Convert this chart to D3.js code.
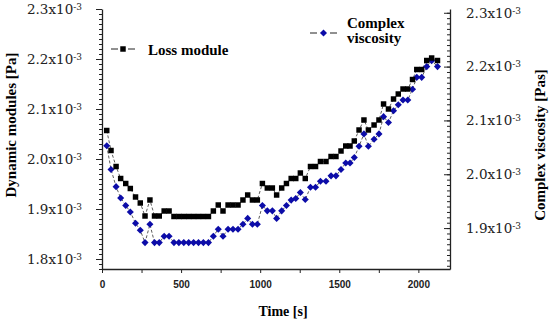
<!DOCTYPE html>
<meta charset="utf-8">
<script src="https://d3js.org/d3.v7.min.js"></script>
<style>
  body { margin: 0; background: #fff; }
  .tick line { stroke: #222; }
  .domain { stroke: #222; stroke-width: 1.3px; }
</style>
<div id="chart"></div>
<script>
// time in seconds
var times = [30, 57, 89, 118, 150, 179, 212, 242, 272, 303, 332, 362, 393, 424, 455,
  486, 517, 548, 579, 610, 641, 673, 704, 735, 765, 797, 828, 860, 891, 921, 951,
  982, 1014, 1045, 1077, 1104, 1136, 1166, 1196, 1225, 1254, 1285, 1318, 1350, 1381,
  1416, 1448, 1479, 1511, 1541, 1568, 1595, 1625, 1656, 1684, 1720, 1751, 1780, 1811,
  1843, 1873, 1903, 1933, 1963, 1990, 2021, 2053, 2084, 2121];

// loss module, x10^-3 Pa (left axis)
var lossModule = [2.057, 2.017, 1.985, 1.961, 1.951, 1.941, 1.924, 1.912, 1.886, 1.918,
  1.886, 1.886, 1.896, 1.896, 1.885, 1.885, 1.885, 1.885, 1.885, 1.885, 1.885, 1.885,
  1.896, 1.908, 1.896, 1.908, 1.908, 1.908, 1.918, 1.928, 1.918, 1.918, 1.951, 1.942,
  1.942, 1.928, 1.942, 1.951, 1.961, 1.961, 1.972, 1.961, 1.985, 1.985, 1.995, 1.995,
  2.005, 2.005, 2.016, 2.026, 2.026, 2.036, 2.058, 2.078, 2.058, 2.068, 2.078, 2.110,
  2.100, 2.120, 2.130, 2.140, 2.140, 2.159, 2.179, 2.179, 2.197, 2.202, 2.197];

// complex viscosity, x10^-3 Pas (right axis)
var complexViscosity = [2.053, 2.009, 1.977, 1.956, 1.942, 1.930, 1.909, 1.896, 1.873,
  1.907, 1.873, 1.873, 1.885, 1.885, 1.873, 1.873, 1.873, 1.873, 1.873, 1.873, 1.873,
  1.873, 1.885, 1.898, 1.885, 1.898, 1.898, 1.898, 1.907, 1.918, 1.907, 1.907, 1.942,
  1.932, 1.932, 1.918, 1.932, 1.942, 1.952, 1.955, 1.966, 1.953, 1.976, 1.976, 1.987,
  1.987, 1.997, 1.997, 2.009, 2.021, 2.021, 2.031, 2.052, 2.075, 2.052, 2.065, 2.075,
  2.107, 2.096, 2.118, 2.129, 2.138, 2.138, 2.158, 2.180, 2.180, 2.200, 2.211, 2.200];

var xTicks = [0, 500, 1000, 1500, 2000];
var xMinorTicks = [250, 750, 1250, 1750];
var leftTicks = [1.8, 1.9, 2.0, 2.1, 2.2, 2.3];
var rightTicks = [1.9, 2.0, 2.1, 2.2, 2.3];

var width = 550, height = 320;
var margin = {left: 102, right: 450, top: 9, bottom: 269};

var svg = d3.select("#chart").append("svg")
    .attr("width", width)
    .attr("height", height)
    .style("font-family", "'Liberation Serif', serif");

var x = d3.scaleLinear().domain([0, 2200]).range([margin.left, margin.right]);
var yL = d3.scaleLinear().domain([1.78, 2.3]).range([margin.bottom, margin.top]);
var yR = d3.scaleLinear().domain([1.824, 2.307]).range([margin.bottom, margin.top]);

// labels like 2.3x10^-3
function sciLabel(sel) {
  sel.selectAll(".tick text").each(function(d) {
    var t = d3.select(this).text("");
    t.append("tspan").text(d.toFixed(1) + "x10");
    t.append("tspan").attr("dy", "-0.45em").style("font-size", "9px").text("-3");
  });
}

// minor ticks (every 0.01)
var minorL = d3.range(1.78, 2.305, 0.01);
var minorR = d3.range(1.83, 2.305, 0.01);

svg.append("g")
    .attr("transform", "translate(" + margin.left + ",0)")
    .call(d3.axisLeft(yL).tickValues(minorL).tickSize(3).tickFormat("").tickSizeOuter(0))
    .select(".domain").remove();

var gL = svg.append("g")
    .attr("transform", "translate(" + margin.left + ",0)")
    .style("font-family", "'DejaVu Serif', serif")
    .style("font-size", "13.5px")
    .call(d3.axisLeft(yL).tickValues(leftTicks).tickSize(6).tickPadding(14).tickSizeOuter(0));
gL.selectAll(".tick text").attr("fill", "#222");
sciLabel(gL);

svg.append("g")
    .attr("transform", "translate(" + margin.right + ",0)")
    .call(d3.axisRight(yR).tickValues(minorR).tickSize(-3).tickFormat("").tickSizeOuter(0))
    .select(".domain").remove();

var gR = svg.append("g")
    .attr("transform", "translate(" + margin.right + ",0)")
    .style("font-family", "'DejaVu Serif', serif")
    .style("font-size", "13.5px")
    .call(d3.axisRight(yR).tickValues(rightTicks).tickSize(-6).tickPadding(16).tickSizeOuter(0));
gR.selectAll(".tick text").attr("fill", "#222");
sciLabel(gR);

svg.append("g")
    .attr("transform", "translate(0," + margin.bottom + ")")
    .call(d3.axisBottom(x).tickValues(xMinorTicks).tickSize(4).tickFormat("").tickSizeOuter(0))
    .select(".domain").remove();

var gX = svg.append("g")
    .attr("transform", "translate(0," + margin.bottom + ")")
    .style("font-family", "'Liberation Sans', Arial, sans-serif")
    .style("font-size", "10px")
    .style("font-weight", "bold")
    .call(d3.axisBottom(x).tickValues(xTicks).tickFormat(d3.format("d"))
      .tickSize(4).tickPadding(8).tickSizeOuter(0));
gX.selectAll(".tick text").attr("fill", "#222");

// dashed connecting lines
var lineL = d3.line()
    .x(function(d, i) { return x(times[i]); })
    .y(function(d) { return yL(d); });
var lineR = d3.line()
    .x(function(d, i) { return x(times[i]); })
    .y(function(d) { return yR(d); });

svg.append("path")
    .datum(lossModule)
    .attr("d", lineL)
    .attr("fill", "none")
    .attr("stroke", "#333")
    .attr("stroke-width", 0.8)
    .attr("stroke-dasharray", "3,2");

svg.append("path")
    .datum(complexViscosity)
    .attr("d", lineR)
    .attr("fill", "none")
    .attr("stroke", "#333")
    .attr("stroke-width", 0.8)
    .attr("stroke-dasharray", "3,2");

var square = d3.symbol().type(d3.symbolSquare).size(30);
var diamond = d3.symbol().type(d3.symbolSquare).size(25);
var blue = "#0c0ca8";

svg.append("g").selectAll("path")
    .data(complexViscosity)
    .enter().append("path")
    .attr("d", diamond)
    .attr("transform", function(d, i) { return "translate(" + x(times[i]) + "," + yR(d) + ") rotate(45)"; })
    .attr("fill", blue);

svg.append("g").selectAll("path")
    .data(lossModule)
    .enter().append("path")
    .attr("d", square)
    .attr("transform", function(d, i) { return "translate(" + x(times[i]) + "," + yL(d) + ")"; })
    .attr("fill", "#000");

// legend
var leg = svg.append("g").style("font-weight", "bold").style("font-size", "15px");
leg.append("line").attr("x1", 111).attr("x2", 118).attr("y1", 49).attr("y2", 49).attr("stroke", "#222");
leg.append("line").attr("x1", 128).attr("x2", 135).attr("y1", 49).attr("y2", 49).attr("stroke", "#222");
leg.append("path").attr("d", square).attr("transform", "translate(123,49)").attr("fill", "#000");
leg.append("text").attr("x", 148).attr("y", 55).text("Loss module");

leg.append("line").attr("x1", 310).attr("x2", 317).attr("y1", 33).attr("y2", 33).attr("stroke", "#222");
leg.append("line").attr("x1", 330).attr("x2", 337).attr("y1", 33).attr("y2", 33).attr("stroke", "#222");
leg.append("path").attr("d", diamond).attr("transform", "translate(323.5,33) rotate(45)").attr("fill", blue);
leg.append("text").attr("x", 347).attr("y", 28).text("Complex");
leg.append("text").attr("x", 347).attr("y", 43).text("viscosity");

// axis titles
svg.append("text")
    .attr("transform", "translate(16,125) rotate(-90)")
    .attr("text-anchor", "middle")
    .style("font-weight", "bold")
    .style("font-size", "15px")
    .text("Dynamic modules [Pa]");

svg.append("text")
    .attr("transform", "translate(545,145) rotate(-90)")
    .attr("text-anchor", "middle")
    .style("font-weight", "bold")
    .style("font-size", "15px")
    .text("Complex viscosity [Pas]");

svg.append("text")
    .attr("x", 283)
    .attr("y", 316)
    .attr("text-anchor", "middle")
    .style("font-weight", "bold")
    .style("font-size", "14px")
    .text("Time [s]");
</script>
